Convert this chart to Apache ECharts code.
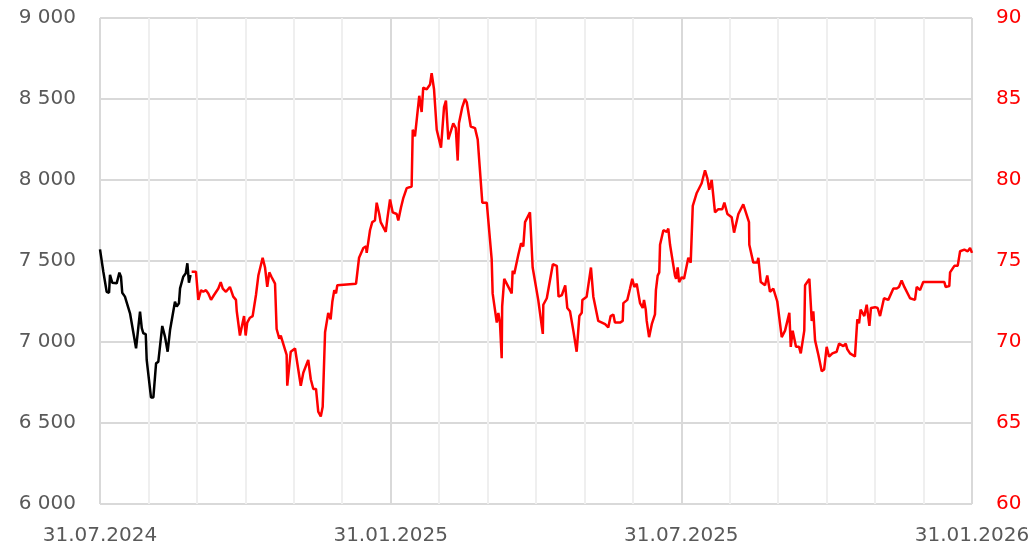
<!DOCTYPE html>
<html>
<head>
<meta charset="utf-8">
<script src="https://cdn.jsdelivr.net/npm/echarts@6/dist/echarts.min.js"></script>
<style>
html,body{margin:0;padding:0;background:#fff;}
#chart{width:1035px;height:553px;}
</style>
</head>
<body>
<div id="chart"></div>
<script>
// x values: days since 31.07.2024
const xTickLabels = ['31.07.2024', '31.01.2025', '31.07.2025', '31.01.2026'];
const xSpanDays = 549;        // 31.07.2024 -> 31.01.2026
const xGridCount = 18;        // gridline intervals

const blackDays = [0,2.1,4.2,5.7,6.3,7.7,10.5,12.2,13.2,14.0,15.7,18.9,20.1,22.7,25.2,26.3,27.3,28.8,29.4,32.1,33.6,35.3,36.7,39.2,40.9,42.6,44.1,46.1,47.2,48.3,49.7,50.4,52.4,54.0,55.0,56.0,57.0];
const blackValues = [7572,7434,7310,7304,7414,7366,7362,7428,7403,7304,7280,7177,7167,6961,7187,7085,7054,7049,6889,6658,6658,6868,6878,7099,7033,6940,7074,7187,7249,7218,7239,7331,7403,7424,7486,7366,7414];

const redDays = [57.7,60.4,61.9,63.6,65.0,66.7,68.2,69.9,71.8,74.5,
76.0,77.3,79.3,81.8,83.9,85.6,86.1,88.1,90.7,91.7,
92.7,94.4,96.1,98.2,99.7,102.4,103.9,104.9,105.3,106.6,
108.1,110.2,111.2,112.9,113.8,114.8,117.5,117.9,120.1,122.8,
123.8,126.4,128.0,131.1,132.7,134.3,136.0,137.4,139.0,140.2,
141.7,143.7,145.2,146.3,147.5,148.6,149.4,161.2,163.1,165.8,
167.5,167.9,170.0,171.4,173.1,174.2,175.8,176.7,179.9,180.9,
182.6,184.3,186.8,187.8,189.5,191.0,193.1,196.2,196.9,198.3,
201.0,202.5,203.5,205.7,207.8,208.8,210.3,212.0,214.7,216.6,
217.8,219.3,222.4,224.0,225.2,226.0,228.1,229.8,230.9,233.4,
236.1,237.8,240.7,243.5,246.6,247.2,249.8,250.8,251.8,252.9,
253.2,254.5,257.1,259.2,259.8,260.8,263.4,265.1,266.5,267.6,
270.7,272.4,275.9,278.8,279.1,281.3,285.1,287.6,288.7,290.8,
292.9,294.2,295.9,298.0,300.1,301.8,303.3,303.7,306.4,309.1,
310.6,313.7,314.8,318.0,320.0,321.5,323.2,324.2,327.4,329.1,
329.5,332.0,333.7,335.1,336.4,337.9,340.0,341.7,342.5,343.6,
344.2,345.7,347.4,349.4,350.0,351.1,352.1,352.6,354.7,356.8,
357.8,358.9,362.0,362.7,363.7,364.6,366.3,367.7,370.4,371.9,
373.2,375.7,378.8,380.9,382.4,383.6,385.1,387.2,389.3,391.8,
393.1,395.0,397.7,399.2,401.9,405.0,408.6,408.8,411.3,413.8,
414.5,416.0,418.7,420.1,421.8,423.9,426.4,429.2,431.3,434.0,
434.9,436.1,438.2,440.1,441.2,442.4,443.4,443.9,446.6,448.1,
449.1,450.2,452.3,454.4,455.9,457.5,459.0,461.1,463.8,465.3,
468.0,469.5,470.5,472.2,475.3,476.8,477.9,478.9,481.2,482.7,
483.7,484.4,485.4,488.0,489.6,491.1,493.6,496.3,499.5,501.6,
503.0,504.7,506.4,510.0,513.1,514.2,516.3,518.3,531.6,532.4,
534.7,535.2,537.9,540.0,541.5,544.2,546.3,547.8,549.0];
const redValues = [74.34,74.34,72.6,73.2,73.1,73.2,73.0,72.6,72.9,73.3,
73.7,73.3,73.1,73.4,72.8,72.6,71.9,70.4,71.6,70.4,
71.2,71.5,71.6,72.9,74.1,75.2,74.6,74.6,73.4,74.3,
74.0,73.6,70.8,70.2,70.4,70.3,69.2,67.3,69.4,69.6,
69.5,67.3,68.1,68.9,67.7,67.1,67.1,65.7,65.4,66.0,
70.6,71.8,71.4,72.5,73.2,73.0,73.5,73.6,75.2,75.8,
75.9,75.5,76.9,77.4,77.5,78.6,77.9,77.4,76.8,77.6,
78.8,78.0,77.9,77.5,78.3,78.9,79.5,79.6,83.1,82.7,
85.2,84.2,85.7,85.6,85.9,86.6,85.6,83.1,82.0,84.5,
84.9,82.5,83.5,83.2,81.2,83.5,84.5,85.0,84.8,83.3,
83.2,82.5,78.6,78.6,75.1,73.0,71.2,71.8,71.2,69.0,
72.2,73.9,73.4,73.0,74.4,74.2,75.4,76.1,75.9,77.4,
78.0,74.6,72.6,70.5,72.3,72.7,74.8,74.7,72.8,72.9,
73.5,72.1,71.9,70.7,69.4,71.6,71.8,72.6,72.8,74.6,
72.8,71.3,71.2,71.1,70.9,71.6,71.7,71.2,71.2,71.3,
72.4,72.6,73.3,73.9,73.4,73.6,72.4,72.1,72.6,72.0,
71.3,70.3,71.1,71.7,73.2,74.1,74.3,76.0,76.9,76.8,
77.0,76.0,74.1,73.9,74.6,73.7,74.0,73.9,75.2,74.9,
78.4,79.2,79.8,80.6,80.1,79.4,80.0,78.0,78.2,78.2,
78.6,77.9,77.7,76.75,77.9,78.5,77.4,76.0,74.9,74.9,
75.2,73.7,73.5,74.1,73.1,73.3,72.5,70.3,70.7,71.8,
69.7,70.7,69.7,69.7,69.3,69.4,70.7,73.5,73.9,71.3,
71.9,70.1,69.2,68.2,68.3,69.7,69.1,69.3,69.4,69.9,
69.75,69.9,69.55,69.3,69.1,71.4,71.15,72.0,71.6,72.3,
72.2,71.0,72.1,72.15,72.1,71.6,72.7,72.6,73.3,73.3,
73.4,73.8,73.4,72.7,72.6,73.4,73.2,73.7,73.7,73.4,
73.45,74.3,74.7,74.7,75.6,75.7,75.6,75.8,75.5];

const zip = (a, b) => a.map((v, i) => [v, b[i]]);
const step = xSpanDays / xGridCount;
const FONT = 'DejaVu Sans';

const chart = echarts.init(document.getElementById('chart'), null, {renderer: 'canvas'});
chart.setOption({
  animation: false,
  backgroundColor: '#ffffff',
  grid: {left: 100, right: 63, top: 18, bottom: 49, containLabel: false},
  xAxis: {
    type: 'value',
    min: 0,
    max: xSpanDays,
    interval: step,
    axisLine: {show: false},
    axisTick: {show: false},
    axisLabel: {
      margin: 22,
      fontFamily: FONT,
      fontSize: 20,
      color: '#595959',
      formatter: function (v) {
        const i = Math.round(v / step);
        return i % 6 === 0 ? (xTickLabels[i / 6] || '') : '';
      }
    },
    splitLine: {
      show: true,
      lineStyle: {
        width: 2,
        color: ['#d9d9d9', '#efefef', '#efefef', '#efefef', '#efefef', '#efefef']
      }
    }
  },
  yAxis: [
    {
      type: 'value',
      min: 6000,
      max: 9000,
      interval: 500,
      position: 'left',
      axisLine: {show: false},
      axisTick: {show: false},
      axisLabel: {
        margin: 24,
        fontFamily: FONT,
        fontSize: 20,
        color: '#595959',
        formatter: v => String(v).replace(/\B(?=(\d{3})+(?!\d))/g, ' ')
      },
      splitLine: {show: true, lineStyle: {color: '#d9d9d9', width: 2}}
    },
    {
      type: 'value',
      min: 60,
      max: 90,
      interval: 5,
      position: 'right',
      axisLine: {show: false},
      axisTick: {show: false},
      axisLabel: {
        margin: 24,
        fontFamily: FONT,
        fontSize: 20,
        color: '#ff0000'
      },
      splitLine: {show: false}
    }
  ],
  series: [
    {
      type: 'line',
      yAxisIndex: 0,
      data: zip(blackDays, blackValues),
      showSymbol: false,
      lineStyle: {color: '#000000', width: 2.5},
      itemStyle: {color: '#000000'}
    },
    {
      type: 'line',
      yAxisIndex: 1,
      data: zip(redDays, redValues),
      showSymbol: false,
      lineStyle: {color: '#ff0000', width: 2.5},
      itemStyle: {color: '#ff0000'}
    }
  ]
});
</script>
</body>
</html>
